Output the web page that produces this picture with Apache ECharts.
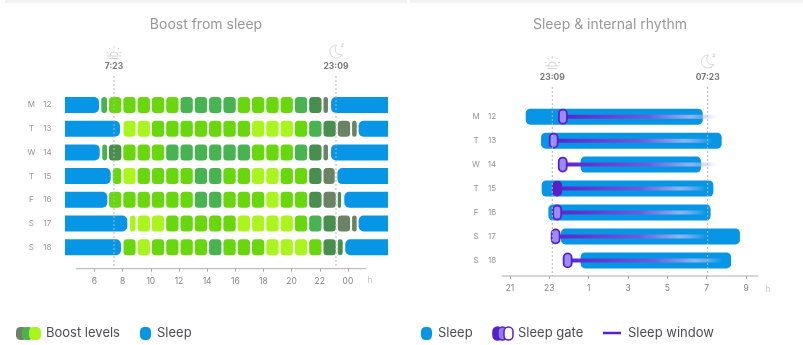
<!DOCTYPE html>
<html><head><meta charset="utf-8">
<style>html,body{margin:0;padding:0;background:#fff}#c{width:803px;height:345px;filter:blur(0.6px)}</style>
<script src="https://cdn.jsdelivr.net/npm/echarts@6/dist/echarts.min.js"></script>
</head><body><div id="c"></div>
<script>
// ---------- data ----------
const rowLabels = ['M 12','T 13','W 14','T 15','F 16','S 17','S 18'];
const boostTicks = [6,8,10,12,14,16,18,20,22,24];
const rhythmTicks = [21,23,25,27,29,31,33];

// Boost chart: hours on a 24h+ clock
const sleepBarStart = 3.9;
const sleepBarEnd = 26.85;
const sleepMorningEnd = [6.32,7.81,6.37,7.15,6.91,8.33,7.88];
const sleepEveningStart = [22.8,24.76,22.8,23.25,23.74,24.76,23.81];
const boostFirst = [6.48,8.06,6.55,7.29,7.03,8.52,8.06];
const boostLast = [22.58,24.62,22.58,23.06,23.51,24.62,23.63];
// blocks from hour block -1 to 17; 0 lime .. 4 grey
const boostM12 = [2,1,1,1,1,1,2,2,2,2,1,1,1,1,2,3,4];
const boostT13 = [null,null,0,0,1,1,1,1,1,1,1,0,0,0,1,2,3,4,4];
const boostW14 = [2,3,1,1,1,2,2,2,2,2,2,1,1,1,2,3,4];
const boostT15 = [null,1,0,1,1,1,1,2,2,1,1,0,0,1,1,3,4];
const boostF16 = [null,1,1,1,1,1,1,2,2,1,1,1,0,1,1,3,4,3];
const boostS17 = [null,null,0,0,0,1,1,1,1,1,0,0,0,0,1,2,3,4,4];
const boostS18 = [null,null,1,0,1,1,1,1,2,1,1,1,0,0,0,1,3,3];
const boostRows = [boostM12,boostT13,boostW14,boostT15,boostF16,boostS17,boostS18];
const blockOrigin = 7.03, blockPitch = 1.0156, blockLength = 0.874;
const boostRefs = [[7.383,'7:23','sun'],[23.15,'23:09','moon']];

// Rhythm chart: hours past midnight continue as 25, 26 ...
const rhythmSleepStart = [21.8,22.58,24.59,22.61,22.95,23.59,24.59];
const rhythmSleepEnd = [30.8,31.76,30.71,31.34,31.2,32.69,32.24];
const gateCentre = [23.69,23.22,23.68,23.4,23.4,23.32,23.93];
const gateFilled = [0,0,0,1,0,0,0];
const windowEnd = [31.57,31.3,31.57,31.0,31.0,31.0,31.83];
const rhythmRefs = [[23.15,'23:09','sun'],[31.05,'07:23','moon']];

// ---------- styling ----------
const levelColors = ['#abf51f','#69d70e','#47b351','#488e4f','#6b8264'];
const sleepColor = '#0795e6';
const purple = '#5a1fc9';
const sunPath = 'M-7 5H7M-4 5A4 4 0 0 1 4 5M0 -5V-2.5M-5 -3L-3.6 -1.4M5 -3L3.6 -1.4M-7.5 1.5H-5.6M5.6 1.5H7.5M-5 7.5H5';
const moonPath = 'M1 -6A6.5 6.5 0 1 0 6 3.5A5.5 5.5 0 0 1 1 -6ZM5 -7H7.5L5 -4.5H7.5';

const boostData = [];
boostRows.forEach((levels,r)=>levels.forEach((lv,k)=>{
  if(lv===null) return;
  const s = blockOrigin+blockPitch*(k-1);
  const a = Math.max(s,boostFirst[r]), b = Math.min(s+blockLength,boostLast[r]);
  if(b>a) boostData.push([r,a,b,lv]);
}));
const sleepLeftData = [];
rowLabels.forEach((_,r)=>{
  sleepLeftData.push([r,sleepBarStart,sleepMorningEnd[r],0]);
  sleepLeftData.push([r,sleepEveningStart[r],sleepBarEnd,1]);
});
const rhythmData = rowLabels.map((_,r)=>[r,rhythmSleepStart[r],rhythmSleepEnd[r]]);
const gateData = rowLabels.map((_,r)=>[r,gateCentre[r],windowEnd[r],gateFilled[r]]);

function barRect(api,h){
  const r = api.value(0);
  const p0 = api.coord([api.value(1),r]), p1 = api.coord([api.value(2),r]);
  return {x:p0[0],y:p0[1]-h/2,width:p1[0]-p0[0],height:h};
}
function refSeries(xi,yi,refs,top,bottom,labelY,iconY){
  return {type:'custom',xAxisIndex:xi,yAxisIndex:yi,z:10,silent:true,data:refs,
    renderItem(p,api){
      const x = api.coord([api.value(0),0])[0];
      const ref = refs[p.dataIndex];
      const d = ref[2]==='sun'?sunPath:moonPath;
      return {type:'group',children:[
        {type:'line',shape:{x1:x,y1:top,x2:x,y2:bottom},style:{stroke:'#b4b8b4',lineWidth:1,lineDash:[2,2]}},
        {type:'text',x:x,y:labelY,style:{text:ref[1],fill:'#777',font:'bold 8.5px Inter, sans-serif',textAlign:'center',textVerticalAlign:'middle'}},
        {type:'path',x:x,y:iconY,shape:{pathData:d,layout:'none'},style:{fill:null,stroke:'#d6d6d6',lineWidth:1}}
      ]};
    }};
}
function xAxisCfg(idx,min,max,ticks,offset,fmt){
  return {type:'value',gridIndex:idx,min,max,position:'bottom',offset,splitLine:{show:false},
    axisLine:{show:false},
    axisTick:{show:true,customValues:ticks,inside:false,length:3,lineStyle:{color:'#a8a8a8'}},
    axisLabel:{customValues:ticks,formatter:fmt,color:'#858585',fontSize:8.5,margin:8,fontFamily:'Inter, sans-serif'}};
}
function yAxisCfg(idx,margin){
  return {type:'category',gridIndex:idx,data:rowLabels,inverse:true,axisLine:{show:false},axisTick:{show:false},splitLine:{show:false},
    axisLabel:{margin,formatter:v=>{const t=v.split(' ');return '{a|'+t[0]+'}{b|'+t[1]+'}';},
      rich:{a:{width:16,align:'center',color:'#949494',fontSize:8,fontFamily:'Inter, sans-serif'},
            b:{width:16,align:'center',color:'#949494',fontSize:8,fontFamily:'Inter, sans-serif'}}}};
}
const legendText = (x,t)=>({type:'text',x,y:333.5,style:{text:t,fill:'#4d4d55',font:'13px Inter, sans-serif',textVerticalAlign:'middle'}});
const capsule = (x,w,fill,stroke)=>({type:'rect',shape:{x,y:327,width:w,height:13,r:4.5},style:{fill,stroke:stroke||null,lineWidth:stroke?1.5:0}});
const axisRule = (x1,x2,y)=>({type:'line',shape:{x1,y1:y,x2,y2:y},style:{stroke:'#b0b0b0',lineWidth:1}});
const unitText = (x,y)=>({type:'text',x,y,style:{text:'h',fill:'#c4c4c4',font:'8.5px Inter, sans-serif',textAlign:'center',textVerticalAlign:'middle'}});
const titleStyle = {color:'#999',fontSize:14,fontWeight:'normal',fontFamily:'Inter, sans-serif'};

const chart = echarts.init(document.getElementById('c'));
chart.setOption({
  animation:false,backgroundColor:'#fff',
  title:[
    {text:'Boost from sleep',left:206,top:18,padding:0,textAlign:'center',textStyle:titleStyle},
    {text:'Sleep & internal rhythm',left:610,top:18,padding:0,textAlign:'center',textStyle:titleStyle}
  ],
  grid:[
    {left:66.34,width:323.84,top:93.15,height:165.9},
    {left:510,width:255.71,top:104.7,height:167.65}
  ],
  xAxis:[
    xAxisCfg(0,4,27,boostTicks,9.6,v=>v===24?'00':String(v)),
    xAxisCfg(1,21,34,rhythmTicks,3.65,v=>String(v%24))
  ],
  yAxis:[yAxisCfg(0,11),yAxisCfg(1,10)],
  graphic:[
    {type:'rect',shape:{x:5,y:0,width:402,height:3},style:{fill:'#f3f3f3'}},
    {type:'rect',shape:{x:410,y:0,width:393,height:3},style:{fill:'#f3f3f3'}},
    axisRule(76,366,268.7),axisRule(501.7,758.3,276),
    unitText(370,280.7),unitText(768,289.3),
    capsule(16,11,levelColors[4]),capsule(22,11,levelColors[2]),capsule(29,12,levelColors[0]),
    legendText(46,'Boost levels'),
    capsule(140,11,sleepColor),legendText(157,'Sleep'),
    capsule(421,11,sleepColor),legendText(438,'Sleep'),
    capsule(493,9,purple,purple),capsule(498,9,'#8f7df0',purple),capsule(504,9,'#fff',purple),
    legendText(518,'Sleep gate'),
    {type:'line',shape:{x1:603,y1:333,x2:621,y2:333},style:{stroke:purple,lineWidth:2.5}},
    legendText(628,'Sleep window')
  ],
  series:[
    {type:'custom',xAxisIndex:0,yAxisIndex:0,data:sleepLeftData,silent:true,z:2,
      encode:{x:[1,2],y:0},
      renderItem(p,api){
        const rect = barRect(api,16);
        return {type:'rect',shape:{...rect,r:api.value(3)===0?[0,5,5,0]:[5,0,0,5]},style:{fill:sleepColor}};
      }},
    {type:'custom',xAxisIndex:0,yAxisIndex:0,data:boostData,silent:true,z:2,
      encode:{x:[1,2],y:0},
      renderItem(p,api){
        const rect = barRect(api,16);
        return {type:'rect',shape:{...rect,r:3.5},style:{fill:levelColors[api.value(3)]}};
      }},
    refSeries(0,0,boostRefs,76,268,66,51),
    {type:'custom',xAxisIndex:1,yAxisIndex:1,data:rhythmData,silent:true,z:2,
      encode:{x:[1,2],y:0},
      renderItem(p,api){
        const rect = barRect(api,16);
        return {type:'rect',shape:{...rect,r:4.5},style:{fill:sleepColor}};
      }},
    {type:'custom',xAxisIndex:1,yAxisIndex:1,data:gateData,silent:true,z:4,
      encode:{x:[1,2],y:0},
      renderItem(p,api){
        const rect = barRect(api,4);
        const c = rect.x, y = rect.y+2;
        const filled = api.value(3)===1;
        return {type:'group',children:[
          {type:'rect',shape:rect,style:{fill:{type:'linear',x:0,y:0,x2:1,y2:0,colorStops:[
            {offset:0,color:'#5a25cc'},{offset:0.55,color:'#6a5ddc'},{offset:0.82,color:'#8fb4ee'},{offset:1,color:'rgba(190,195,245,0)'}]}}},
          {type:'rect',shape:{x:c-4,y:y-7,width:8,height:14,r:4},
            style:{fill:filled?purple:'#9a8cf2',stroke:purple,lineWidth:1.8}}
        ]};
      }},
    refSeries(1,1,rhythmRefs,87,276,77,61)
  ]
});
</script></body></html>
